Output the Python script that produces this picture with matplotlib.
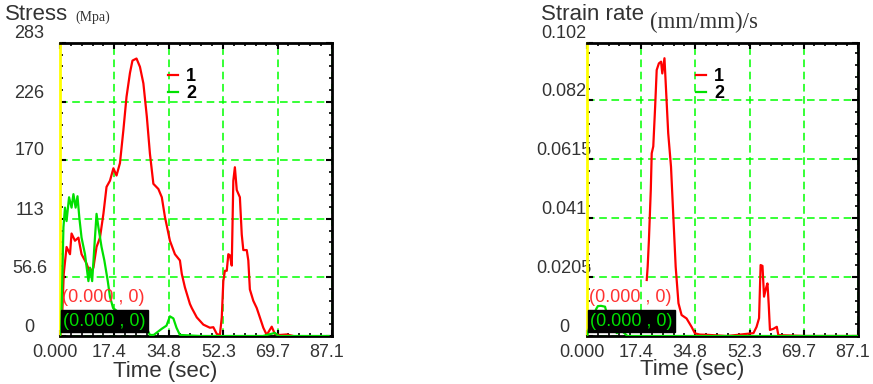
import matplotlib
matplotlib.use("Agg")
import matplotlib.pyplot as plt
import matplotlib.transforms as mtransforms
from matplotlib.ticker import AutoMinorLocator

plt.rcParams['font.family'] = ['Liberation Sans', 'DejaVu Sans']

# x axis (seconds)
time_ticks = [0.0, 17.4, 34.8, 52.3, 69.7, 87.1]
time_labels = ["0.000", "17.4", "34.8", "52.3", "69.7", "87.1"]

# stress panel
stress_ticks = [0, 56.6, 113, 170, 226, 283]
stress_labels = ["0", "56.6", "113", "170", "226", "283"]

stress_t1 = [0, 0.6, 1.2, 2.1, 3.2, 3.7, 4.8, 5.9, 6.9, 8.5, 9.6, 10.7, 11.7, 12.8,
             13.9, 14.9, 16.0, 17.1, 18.1, 19.2, 20.3, 21.3, 22.4, 23.2, 24.5, 25.6,
             26.7, 27.8, 28.8, 29.9, 31.5, 32.6, 33.6, 35.2, 36.8, 38.4, 39.0, 40.0,
             41.6, 42.2, 43.8, 45.9, 48.0, 49.1, 50.2, 51.2, 51.8, 52.3, 52.8, 53.4,
             53.9, 54.4, 55.0, 55.5, 56.0, 56.6, 57.6, 58.2, 58.7, 59.8, 60.3, 60.8,
             61.9, 63.0, 64.0, 65.1, 66.2, 67.8, 68.8, 70.4, 72.6, 74.7]
stress_1 = [0, 12, 60, 86, 79, 99, 92, 95, 79, 70, 61, 66, 86, 95,
            118, 144, 150, 162, 155, 167, 199, 231, 254, 266, 268, 260,
            244, 212, 176, 147, 142, 134, 115, 92, 79, 73, 60, 47,
            31, 27, 18, 11, 8, 8.5, 2, 1, 18, 53, 63, 63,
            79, 78, 68, 150, 163, 141, 134, 98, 83, 83, 73, 45,
            34, 27, 18, 8, 1, 9, 2, 1, 1.5, 0]

stress_t2 = [0, 0.4, 1.1, 1.6, 2.1, 2.9, 3.7, 4.3, 5.0, 5.6, 6.2, 6.9, 8.0, 9.1,
             9.6, 10.3, 11.0, 11.7, 12.3, 13.3, 14.2, 15.3, 16.0, 17.0, 20, 24,
             27.2, 28.8, 30.0, 32.6, 34.1, 35.2, 36.3, 37.3, 38.4, 45, 55, 65,
             68.8, 70, 80, 86]
stress_2 = [0, 10, 105, 124, 111, 134, 124, 137, 124, 135, 114, 95, 79, 53,
            66, 53, 86, 118, 105, 86, 73, 53, 38, 27, 20, 15,
            11, 1, 1, 7, 10, 19, 17, 8, 1, 0, 0, 0,
            3, 0, 0, 0]

# strain rate panel
rate_ticks = [0, 0.0205, 0.041, 0.0615, 0.082, 0.102]
rate_labels = ["0", "0.0205", "0.041", "0.0615", "0.082", "0.102"]

rate_t1 = [19.2, 19.5, 19.9, 20.5, 20.8, 21.3, 21.9, 22.4, 23.1, 23.8, 24.2, 24.9,
           25.3, 26.1, 27.0, 27.7, 28.5, 29.4, 30.4, 32.0, 33.6, 34.7, 36.3, 38.9,
           45, 53.5, 54.5, 55.3, 55.8, 56.4, 56.9, 57.5, 58.0, 58.4, 58.8, 59.9,
           61.0, 61.5, 70, 87]
rate_1 = [0.0195, 0.0241, 0.0334, 0.0508, 0.0636, 0.066, 0.0798, 0.0926, 0.0949,
          0.0955, 0.0914, 0.0967, 0.088, 0.0706, 0.0589, 0.0427, 0.0241, 0.0114,
          0.0073, 0.0061, 0.0032, 0.0009, 0.0005, 0.0004, 0, 0.001, 0.0032, 0.0062,
          0.0247, 0.0244, 0.0137, 0.0165, 0.0183, 0.011, 0.0021, 0.0025, 0.0032,
          0.0003, 0, 0]

rate_t2 = [0, 1, 2, 3, 3.5, 4.5, 5.8, 7, 8, 9.6, 11, 13, 87]
rate_2 = [0, 0.004, 0.007, 0.0095, 0.0104, 0.0105, 0.0102, 0.005, 0.003, 0.001,
          0.002, 0, 0]

W, H = 873, 384
fig = plt.figure(figsize=(W / 100, H / 100), dpi=100)
fig.patch.set_facecolor("white")


def make_panel(rect, t1, y1, t2, y2, yticks, ylabels, ylab_pad, leg_x):
    ax = fig.add_axes(rect)
    ax.plot(t1, y1, color="#ff0000", lw=1.6, label="1", zorder=3)
    ax.plot(t2, y2, color="#00e000", lw=1.6, label="2", zorder=4)
    ax.set_xlim(0, 87.1)
    ax.set_ylim(0, yticks[-1])
    ax.set_xticks(time_ticks)
    ax.set_xticklabels(time_labels)
    ax.set_yticks(yticks)
    ax.set_yticklabels(ylabels)
    ax.xaxis.set_minor_locator(AutoMinorLocator(5))
    ax.yaxis.set_minor_locator(AutoMinorLocator(5))
    ax.grid(True, which="major", color="#00ff00", lw=1.1, linestyle=(0, (5, 3)))
    ax.tick_params(which="both", direction="in", top=True, right=True,
                   color="black", labelsize=13, labelcolor="#333333")
    ax.tick_params(which="major", length=4, width=1.5)
    ax.tick_params(which="minor", length=2.5, width=1.2)
    ax.tick_params(axis="y", which="major", pad=ylab_pad)
    ax.tick_params(axis="x", which="major", pad=5.5)
    for side in ["top", "right", "bottom"]:
        ax.spines[side].set_linewidth(2)
        ax.spines[side].set_color("black")
    ax.spines["left"].set_color("#ffff00")
    ax.spines["left"].set_linewidth(2)

    # shift labels like the original software
    up = mtransforms.ScaledTranslation(0, 11 / 100, fig.dpi_scale_trans)
    for lab in ax.get_yticklabels():
        lab.set_transform(lab.get_transform() + up)
        lab.set_ha("center")
    left = mtransforms.ScaledTranslation(-5 / 100, 0, fig.dpi_scale_trans)
    for lab in ax.get_xticklabels():
        lab.set_transform(lab.get_transform() + left)

    leg = ax.legend(loc="upper left", bbox_to_anchor=(leg_x, 0.915), frameon=False,
                    handlelength=0.55, handletextpad=0.45, labelspacing=0.0,
                    borderpad=0, borderaxespad=0,
                    prop={"size": 13, "weight": "bold"})
    for txt in leg.get_texts():
        txt.set_color("black")

    ax.text(0.008, 0.133, "(0.000 , 0)", transform=ax.transAxes, color="#ff3030",
            fontsize=13, ha="left", va="center", zorder=6)
    ax.text(0.012, 0.051, "(0.000 , 0)", transform=ax.transAxes, color="#00e000",
            fontsize=13, ha="left", va="center", zorder=6,
            bbox=dict(boxstyle="square,pad=0.12", fc="black", ec="black"))
    return ax


ax1 = make_panel([60 / W, 48 / H, 272 / W, 293 / H], stress_t1, stress_1,
                 stress_t2, stress_2, stress_ticks, stress_labels, 22, 0.397)
ax2 = make_panel([587 / W, 48 / H, 271 / W, 293 / H], rate_t1, rate_1,
                 rate_t2, rate_2, rate_ticks, rate_labels, 16.5, 0.402)

fig.text(5 / W, 1 - 15 / H, "Stress", fontsize=16, color="#333333", ha="left", va="center")
fig.text(75 / W, 1 - 17 / H, "(Mpa)", fontsize=10, color="#333333", ha="left",
         va="center", family=["Liberation Serif", "DejaVu Serif"])
fig.text(541 / W, 1 - 15 / H, "Strain rate", fontsize=16, color="#333333", ha="left", va="center")
fig.text(650 / W, 1 - 22 / H, "(mm/mm)/s", fontsize=16.5, color="#333333", ha="left",
         va="center", family=["Liberation Serif", "DejaVu Serif"])

fig.text(165 / W, 1 - 371 / H, "Time (sec)", fontsize=16, color="#333333", ha="center", va="center")
fig.text(692 / W, 1 - 370 / H, "Time (sec)", fontsize=16, color="#333333", ha="center", va="center")

fig.savefig("out.png", dpi=100, facecolor="white")
